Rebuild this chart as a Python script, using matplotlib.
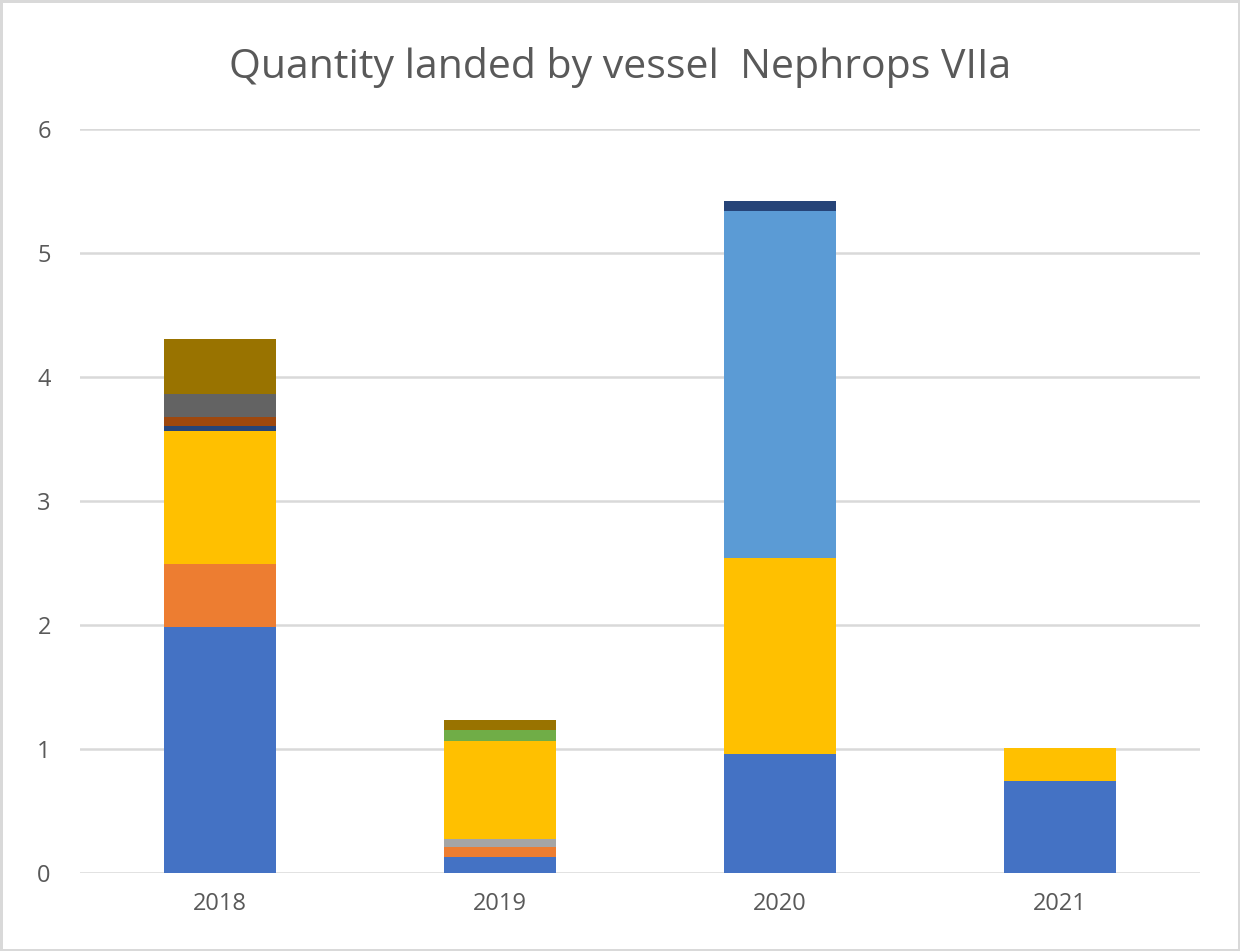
import matplotlib
matplotlib.use("Agg")
import matplotlib.pyplot as plt
import numpy as np

years = ["2018", "2019", "2020", "2021"]
series_colors = ["#4472C4", "#ED7D31", "#A5A5A5", "#FFC000", "#5B9BD5",
                 "#70AD47", "#264478", "#9E480E", "#636363", "#997300"]
# values per series (one entry per year)
s1 = [1.98, 0.13, 0.96, 0.745]
s2 = [0.51, 0.08, 0.0, 0.0]
s3 = [0.0, 0.065, 0.0, 0.0]
s4 = [1.075, 0.79, 1.58, 0.265]
s5 = [0.0, 0.0, 2.80, 0.0]
s6 = [0.0, 0.09, 0.0, 0.0]
s7 = [0.04, 0.0, 0.08, 0.0]
s8 = [0.07, 0.0, 0.0, 0.0]
s9 = [0.185, 0.0, 0.0, 0.0]
s10 = [0.445, 0.08, 0.0, 0.0]
series = [s1, s2, s3, s4, s5, s6, s7, s8, s9, s10]

plt.rcParams['font.family'] = ['Open Sans', 'DejaVu Sans']
fig = plt.figure(figsize=(12.4, 9.51), dpi=100)
fig.patch.set_facecolor("white")
fig.patch.set_edgecolor("#D9D9D9")
fig.patch.set_linewidth(2.5)
ax = fig.add_axes([80/1240, 1-873/951, 1120/1240, (873-129)/951])

x = np.arange(len(years))
bottom = np.zeros(len(years))
for vals, c in zip(series, series_colors):
    v = np.array(vals)
    ax.bar(x, v, width=0.4, bottom=bottom, color=c, zorder=3)
    bottom += v

ax.set_xlim(-0.5, 3.5)
ax.set_ylim(0, 6)
ax.set_yticks(range(0, 7))
ax.set_xticks(x)
ax.set_xticklabels(years)
ax.yaxis.grid(True, color="#D9D9D9", linewidth=1.8, zorder=0)
ax.set_axisbelow(True)
for sp in ax.spines.values():
    sp.set_visible(False)
ax.tick_params(axis='both', length=0, labelsize=17, labelcolor="#595959")
ax.tick_params(axis='y', pad=21)
ax.tick_params(axis='x', pad=14)
fig.text(0.5, 1-68/951, "Quantity landed by vessel  Nephrops VIIa", ha='center', va='center',
         fontsize=29.5, color="#595959")
fig.savefig("out.png", dpi=100, facecolor=fig.get_facecolor(), edgecolor=fig.get_edgecolor())
